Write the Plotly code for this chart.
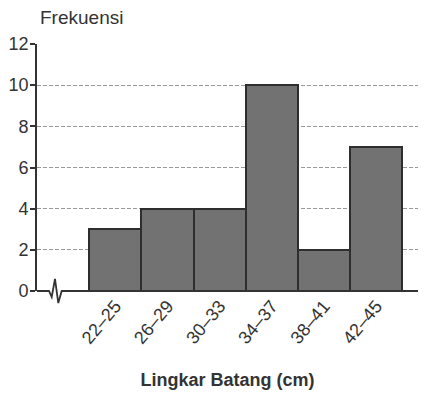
import plotly.graph_objects as go

categories = ["22–25", "26–29", "30–33", "34–37", "38–41", "42–45"]
frekuensi = [3, 4, 4, 10, 2, 7]
y_ticks = [0, 2, 4, 6, 8, 10, 12]
y_title = "Frekuensi"
x_title = "Lingkar Batang (cm)"

FONT = "Liberation Sans, Arial, sans-serif"

# page body has an 8px margin; figure sized to fit the 426x398 window
OFF = 8
W, H = 426 - 2 * OFF, 398 - 2 * OFF
# plot area in window pixels
L, R, T, B = 37, 418, 44, 291

def fx(x):  # window pixel x -> plot-area fraction
    return (x - L) / (R - L)

def fy(y):  # window pixel y -> plot-area fraction
    return (B - y) / (B - T)

fig = go.Figure()
fig.add_trace(go.Bar(
    x=categories, y=frekuensi,
    marker=dict(color="#727272", line=dict(color="#2e2e2e", width=2)),
    width=1.0,
))

# x axis baseline with break symbol (decoration)
zig_x = [37, 49, 51.7, 55, 58.3, 61.7, 418]
zig_y = [291, 291, 297, 279, 303, 291, 291]
path = "M " + " L ".join(f"{fx(x):.4f},{fy(y):.4f}" for x, y in zip(zig_x, zig_y))
fig.add_shape(type="path", path=path, xref="paper", yref="paper",
              line=dict(color="#333333", width=1.8), layer="above")

fig.update_layout(
    width=W, height=H,
    margin=dict(l=L - OFF, r=W - (R - OFF), t=T - OFF, b=H - (B - OFF), autoexpand=False),
    paper_bgcolor="white", plot_bgcolor="white",
    showlegend=False, bargap=0,
    font=dict(family=FONT, color="#333333", size=18),
    xaxis=dict(
        range=[-1.5, 5.80], type="category", automargin=False,
        showgrid=False, showline=False, zeroline=False,
        ticks="", tickangle=-50,
        tickfont=dict(size=18, color="#333333"),
        title=dict(text=x_title, font=dict(size=18, family=FONT, weight="bold", color="#333333"), standoff=26),
    ),
    yaxis=dict(
        range=[0, 12], tickvals=y_ticks, automargin=False,
        showgrid=True, gridcolor="#9a9a9a", gridwidth=1, griddash="4px,2px",
        showline=True, linecolor="#333333", linewidth=2,
        ticks="outside", ticklen=5, tickcolor="#333333", tickwidth=1.5,
        ticklabelstandoff=-2,
        zeroline=False,
        tickfont=dict(size=18, color="#333333"),
    ),
    annotations=[dict(
        text=y_title, xref="paper", yref="paper",
        x=fx(38), y=fy(18), xanchor="left", yanchor="middle",
        showarrow=False, font=dict(size=19, color="#333333"),
    )],
)

fig.write_html("out.html")
